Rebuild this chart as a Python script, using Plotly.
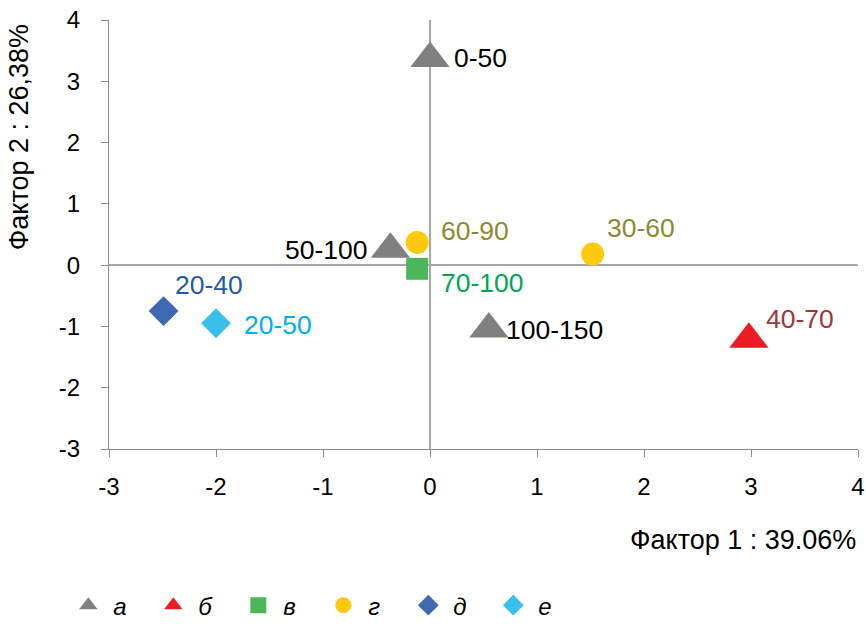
import plotly.graph_objects as go

# Data
series_names = ["а", "б", "в", "г", "д", "е"]
a_x = [0.0, -0.37, 0.55]
a_y = [3.37, 0.26, -1.04]
a_labels = ["0-50", "50-100", "100-150"]
b_x = [2.98]
b_y = [-1.21]
b_labels = ["40-70"]
v_x = [-0.12]
v_y = [-0.06]
v_labels = ["70-100"]
g_x = [-0.12, 1.52]
g_y = [0.37, 0.18]
g_labels = ["60-90", "30-60"]
d_x = [-2.49]
d_y = [-0.75]
d_labels = ["20-40"]
e_x = [-2.0]
e_y = [-0.95]
e_labels = ["20-50"]

x_ticks = [-3, -2, -1, 0, 1, 2, 3, 4]
x_ticktext = ["-3", "-2", "-1", "0", "1", "2", "3", "4"]
y_ticks = [-3, -2, -1, 0, 1, 2, 3, 4]
y_ticktext = ["-3", "-2", "-1", "0", "1", "2", "3", "4"]
x_title = "Фактор 1 : 39.06%"
y_title = "Фактор 2 : 26,38%"

FONT = "Arial, Liberation Sans, sans-serif"

# (x, y, labels, symbol, size, colour, label colour, label offsets (anchor, dx, dy))
specs = [
    (a_x, a_y, a_labels, "triangle-up", 34, "#808080", "#000000",
     [("left", 22, 1), ("right", -20, -1), ("left", 15, -1)]),
    (b_x, b_y, b_labels, "triangle-up", 34, "#ED1C24", "#A4343A", [("left", 15, 20)]),
    (v_x, v_y, v_labels, "square", 22, "#4CB75A", "#00A651", [("left", 22, -14)]),
    (g_x, g_y, g_labels, "circle", 23, "#FFC90E", "#8C8A2F", [("left", 22, 11), ("left", 12, 26)]),
    (d_x, d_y, d_labels, "diamond", 23, "#3F68B0", "#1F5BAA", [("left", 9, 26)]),
    (e_x, e_y, e_labels, "diamond", 23, "#38BFEC", "#00AEEF", [("left", 26, -2)]),
]

fig = go.Figure()
annotations = []
for name, (xs, ys, labs, sym, size, col, tcol, offs) in zip(series_names, specs):
    fig.add_trace(go.Scatter(
        x=xs, y=ys, mode="markers", name=name,
        marker=dict(symbol=sym, size=size, color=col, line=dict(width=0)),
    ))
    for xv, yv, lab, (anc, dx, dy) in zip(xs, ys, labs, offs):
        annotations.append(dict(
            x=xv, y=yv, xref="x", yref="y", text=lab, showarrow=False,
            xanchor=anc, yanchor="middle", xshift=dx, yshift=dy,
            font=dict(family=FONT, size=26.5, color=tcol),
        ))

axis_common = dict(
    showgrid=False, zeroline=True, zerolinecolor="#A6A6A6", zerolinewidth=1.5,
    showline=True, linecolor="#8C8C8C", linewidth=1.2,
    ticks="outside", ticklen=7, tickcolor="#8C8C8C", tickwidth=1.2,
    tickfont=dict(family=FONT, size=24, color="#000000"),
    automargin=False,
)

fig.update_xaxes(range=[-3, 4], tickvals=x_ticks, ticktext=x_ticktext,
                 ticklabelstandoff=9, **axis_common)
fig.update_yaxes(range=[-3, 4], tickvals=y_ticks, ticktext=y_ticktext,
                 ticklabelstandoff=16, **axis_common)

annotations += [
    dict(text=x_title, xref="paper", yref="paper", x=1.0, y=-0.212,
         xanchor="right", yanchor="middle", showarrow=False,
         font=dict(family=FONT, size=27, color="#000000")),
    dict(text=y_title, xref="paper", yref="paper", x=-0.12, y=0.727,
         xanchor="center", yanchor="middle", showarrow=False, textangle=-90,
         font=dict(family=FONT, size=27, color="#000000")),
]

fig.update_layout(
    width=866, height=624,
    margin=dict(l=109, r=8, t=20, b=175, autoexpand=False),
    plot_bgcolor="white", paper_bgcolor="white",
    font=dict(family=FONT),
    showlegend=True,
    legend=dict(
        orientation="h", x=-0.061, xanchor="left", y=-0.365, yanchor="middle",
        font=dict(family=FONT, size=24, color="#000000", style="italic"),
        entrywidth=30, itemwidth=40,
    ),
    annotations=annotations,
)

fig.write_html("out.html", config={"displayModeBar": False},
               post_script="document.body.style.margin='0';")
